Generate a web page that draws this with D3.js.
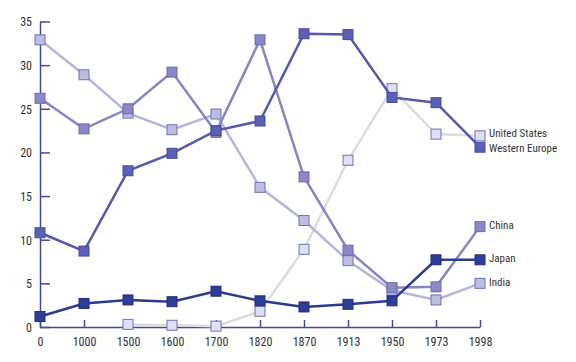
<!DOCTYPE html>
<html>
<head>
    <title>World GDP shares</title>
    <style type="text/css">
        body { margin: 0; background: #fff; }
        svg text {
            font-family: "Liberation Sans Narrow", "Arial Narrow", "Roboto", sans-serif;
            font-stretch: condensed;
        }
        .axis path, .axis line { stroke: #3d4aa3; stroke-width: 1.5; }
        .axis text { fill: #333; font-size: 12px; }
        .label { fill: #333; font-size: 11px; }
    </style>
</head>
<body>
<script src="https://d3js.org/d3.v7.min.js"></script>
<script type="text/javascript">

    var years = ['0', '1000', '1500', '1600', '1700', '1820', '1870', '1913', '1950', '1973', '1998'];
    var yTicks = [0, 5, 10, 15, 20, 25, 30, 35];

    // share of world GDP, %
    var unitedStates = [null, null, 0.3, 0.2, 0.1, 1.8, 8.9, 19.1, 27.3, 22.1, 21.9];
    var india = [32.9, 28.9, 24.5, 22.6, 24.4, 16.0, 12.2, 7.6, 4.2, 3.1, 5.0];
    var china = [26.2, 22.7, 25.0, 29.2, 22.3, 32.9, 17.2, 8.8, 4.5, 4.6, 11.5];
    var westernEurope = [10.8, 8.7, 17.9, 19.9, 22.5, 23.6, 33.6, 33.5, 26.3, 25.7, 20.6];
    var japan = [1.2, 2.7, 3.1, 2.9, 4.1, 3.0, 2.3, 2.6, 3.0, 7.7, 7.7];

    var series = [
        { name: 'United States', values: unitedStates, line: '#dcdcdc', fill: '#dfe0f1', stroke: '#6d72b9' },
        { name: 'India', values: india, line: '#b6b6dc', fill: '#bcbde1', stroke: '#6d72b9' },
        { name: 'China', values: china, line: '#8985c3', fill: '#8b88c6', stroke: '#6c6ab4' },
        { name: 'Western Europe', values: westernEurope, line: '#5459ae', fill: '#5a60b4', stroke: '#444aa2' },
        { name: 'Japan', values: japan, line: '#2b3a92', fill: '#2e3d98', stroke: '#1f2d86' }
    ];

    var svg = d3.select('body').append('svg')
        .attr('width', 576)
        .attr('height', 362);

    var x = d3.scalePoint().domain(years).range([40, 480]);
    var y = d3.scaleLinear().domain([0, 35]).range([327, 21.5]);

    svg.append('g')
        .attr('class', 'axis')
        .attr('transform', 'translate(40,0)')
        .call(d3.axisLeft(y).tickValues(yTicks).tickSizeInner(-10).tickSizeOuter(0).tickPadding(8))
        .call(function (g) { g.selectAll('text').attr('dy', '0.36em'); });

    svg.append('g')
        .attr('class', 'axis')
        .attr('transform', 'translate(0,327)')
        .call(d3.axisBottom(x).tickSizeInner(-7).tickSizeOuter(0).tickPadding(10));

    var line = d3.line()
        .defined(function (d) { return d != null; })
        .x(function (d, i) { return x(years[i]); })
        .y(function (d) { return y(d); });

    series.forEach(function (s) {
        var g = svg.append('g');
        g.append('path')
            .attr('d', line(s.values))
            .attr('fill', 'none')
            .attr('stroke', s.line)
            .attr('stroke-width', 2.5);

        g.selectAll('rect')
            .data(s.values.map(function (v, i) { return { v: v, i: i }; })
                .filter(function (d) { return d.v != null; }))
            .enter().append('rect')
            .attr('x', function (d) { return x(years[d.i]) - 5; })
            .attr('y', function (d) { return y(d.v) - 5; })
            .attr('width', 10)
            .attr('height', 10)
            .attr('fill', s.fill)
            .attr('stroke', s.stroke)
            .attr('stroke-width', 1);

        var last = s.values[s.values.length - 1];
        svg.append('text')
            .attr('class', 'label')
            .attr('x', x(years[years.length - 1]) + 9)
            .attr('y', y(last))
            .attr('dy', s.name === 'United States' ? '0.1em' : (s.name === 'Western Europe' ? '0.4em' : '0.2em'))
            .text(s.name);
    });
</script>
</body>
</html>
